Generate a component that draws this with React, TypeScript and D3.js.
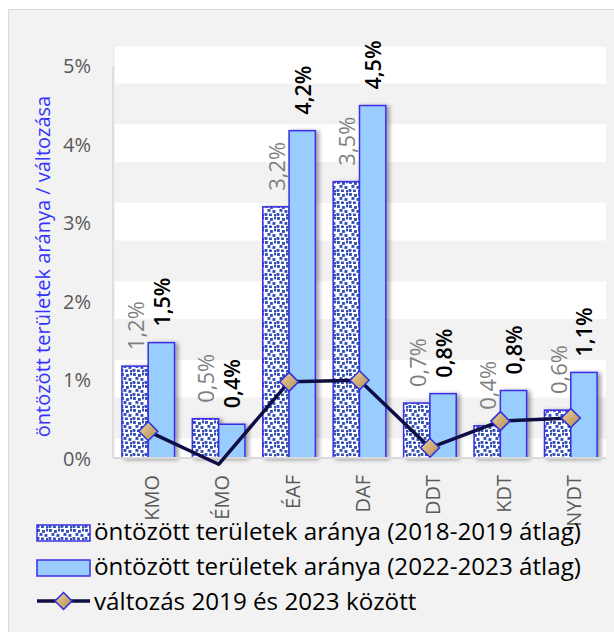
import React from "react";
import * as d3 from "d3";

const categories = ["KMO", "ÉMO", "ÉAF", "DAF", "DDT", "KDT", "NYDT"];
const avg2018_2019 = [1.17, 0.5, 3.2, 3.52, 0.7, 0.41, 0.61];
const avg2022_2023 = [1.47, 0.43, 4.17, 4.49, 0.82, 0.86, 1.09];
const change2019_2023 = [0.34, -0.08, 0.97, 0.99, 0.13, 0.47, 0.51];
const labels1 = ["1,2%", "0,5%", "3,2%", "3,5%", "0,7%", "0,4%", "0,6%"];
const labels2 = ["1,5%", "0,4%", "4,2%", "4,5%", "0,8%", "0,8%", "1,1%"];
const yTicks = [0, 1, 2, 3, 4, 5];
const yTickLabels = ["0%", "1%", "2%", "3%", "4%", "5%"];
const legendLabels = [
  "öntözött területek aránya (2018-2019 átlag)",
  "öntözött területek aránya (2022-2023 átlag)",
  "változás 2019 és 2023 között",
];
const yTitle = "öntözött területek aránya / változása";

const FONT = "'Open Sans', 'DejaVu Sans', sans-serif";

export default function App() {
  const W = 614;
  const H = 632;
  const left = 113;
  const right = 606;
  const bottom = 458;
  const top = 47;

  const x = d3
    .scaleBand<string>()
    .domain(categories)
    .range([left, right])
    .paddingInner(0.253)
    .paddingOuter(0.1265);
  const x1 = d3
    .scaleBand<string>()
    .domain(["a", "b"])
    .range([0, x.bandwidth()])
    .padding(0);
  const y = d3.scaleLinear().domain([0, 5]).range([bottom, 65.5]);

  const bands: [number, number][] = [];
  for (let n = 0; n <= 5; n++) {
    const lo = Math.max(0, n - 0.23);
    const hi = Math.min(n + 0.25, 5.24);
    bands.push([lo, hi]);
  }

  const linePts = categories.map((c, i) => [
    (x(c) as number) + x.bandwidth() / 2,
    y(change2019_2023[i]),
  ]) as [number, number][];
  const line = d3.line()(linePts) as string;

  const diamond = (cx: number, cy: number, r: number) =>
    `M${cx},${cy - r}L${cx + r},${cy}L${cx},${cy + r}L${cx - r},${cy}Z`;

  const dots = [
    [1, 1], [6, 2], [10, 0.5], [3.5, 5], [8.5, 6], [0.5, 9], [5, 9.5], [10, 10],
  ];

  return (
    <svg
      width={W}
      height={H}
      style={{ position: "fixed", left: 0, top: 0, background: "#fff" }}
      fontFamily={FONT}
    >
      <defs>
        <pattern id="dots" width="12" height="12" patternUnits="userSpaceOnUse">
          <rect width="12" height="12" fill="#fff" />
          {dots.map((d, i) => (
            <rect key={i} x={d[0]} y={d[1]} width="2.9" height="2.9" fill="#3350b8" />
          ))}
        </pattern>
        <filter id="shadow" x="-20%" y="-10%" width="150%" height="130%">
          <feDropShadow dx="3" dy="1" stdDeviation="2" floodColor="#000" floodOpacity="0.38" />
        </filter>
        <linearGradient id="tan" x1="0" y1="0" x2="1" y2="1">
          <stop offset="0" stopColor="#f0d49c" />
          <stop offset="1" stopColor="#b08a52" />
        </linearGradient>
        <clipPath id="plotclip">
          <rect x={left} y={top} width={right - left} height={bottom - top + 8} />
        </clipPath>
      </defs>

      <rect x={8.5} y={9.5} width={W} height={H} fill="#f2f2f2" stroke="#d9d9d9" />

      {bands.map(([lo, hi], i) => (
        <rect
          key={i}
          x={left + 2}
          y={y(hi)}
          width={right - left - 2}
          height={y(lo) - y(hi)}
          fill="#ffffff"
        />
      ))}

      <line x1={left} x2={left} y1={y(5.0)} y2={bottom} stroke="#d9d9d9" strokeWidth={1.5} />

      {categories.map((c, i) => {
        const bx = x(c) as number;
        return (
          <g key={c} filter="url(#shadow)">
            <rect
              x={bx + (x1("a") as number)}
              y={y(avg2018_2019[i])}
              width={x1.bandwidth()}
              height={bottom - y(avg2018_2019[i])}
              fill="url(#dots)"
              stroke="#3a2ee6"
              strokeWidth={1.5}
            />
            <rect
              x={bx + (x1("b") as number)}
              y={y(avg2022_2023[i])}
              width={x1.bandwidth()}
              height={bottom - y(avg2022_2023[i])}
              fill="#99ccff"
              stroke="#3a2ee6"
              strokeWidth={1.5}
            />
          </g>
        );
      })}

      <line x1={left} x2={right} y1={bottom} y2={bottom} stroke="#d9d9d9" strokeWidth={2} />

      <g clipPath="url(#plotclip)">
        <path d={line} fill="none" stroke="#0e0e44" strokeWidth={3.5} strokeLinejoin="round" />
      </g>
      {linePts.map((p, i) =>
        change2019_2023[i] >= 0 ? (
          <path key={i} d={diamond(p[0], p[1], 9.5)} fill="url(#tan)" stroke="#2e2ee0" strokeWidth={1.5} />
        ) : null
      )}

      {categories.map((c, i) => {
        const bx = x(c) as number;
        const cx1 = bx + (x1("a") as number) + x1.bandwidth() / 2;
        const cx2 = bx + (x1("b") as number) + x1.bandwidth() / 2;
        const y1 = y(avg2018_2019[i]) - 16;
        const y2 = y(avg2022_2023[i]) - 16;
        return (
          <g key={c}>
            <text
              transform={`translate(${cx1},${y1}) rotate(-90)`}
              dominantBaseline="central"
              fontSize={22}
              fill="#7f7f7f"
            >
              {labels1[i]}
            </text>
            <text
              transform={`translate(${cx2},${y2}) rotate(-90)`}
              dominantBaseline="central"
              fontSize={21.5}
              fontWeight={600}
              fill="#000"
            >
              {labels2[i]}
            </text>
          </g>
        );
      })}

      {yTicks.map((t, i) => (
        <text
          key={t}
          x={91}
          y={y(t)}
          textAnchor="end"
          dominantBaseline="central"
          fontSize={20}
          fill="#595959"
        >
          {yTickLabels[i]}
        </text>
      ))}

      <text
        transform={`translate(42,${(top + bottom) / 2 + 14}) rotate(-90)`}
        textAnchor="middle"
        dominantBaseline="central"
        fontSize={20}
        fill="#3333ff"
      >
        {yTitle}
      </text>

      {categories.map((c) => (
        <text
          key={c}
          transform={`translate(${(x(c) as number) + x.bandwidth() / 2 + 3},${475}) rotate(-90)`}
          textAnchor="end"
          dominantBaseline="central"
          fontSize={20}
          fill="#595959"
        >
          {c}
        </text>
      ))}

      <g>
        <rect x={37} y={525} width={53} height={16} fill="url(#dots)" stroke="#3a2ee6" strokeWidth={1.5} />
        <text x={94} y={540} fontSize={24.2} fill="#000">{legendLabels[0]}</text>
        <rect x={37} y={560} width={53} height={16} fill="#99ccff" stroke="#3a2ee6" strokeWidth={1.5} />
        <text x={94} y={575} fontSize={24.2} fill="#000">{legendLabels[1]}</text>
        <line x1={37} x2={90} y1={601} y2={601} stroke="#0e0e44" strokeWidth={3.5} />
        <path d={diamond(63.5, 601, 8.5)} fill="url(#tan)" stroke="#2e2ee0" strokeWidth={1.5} />
        <text x={94} y={610} fontSize={24.2} fill="#000">{legendLabels[2]}</text>
      </g>
    </svg>
  );
}
